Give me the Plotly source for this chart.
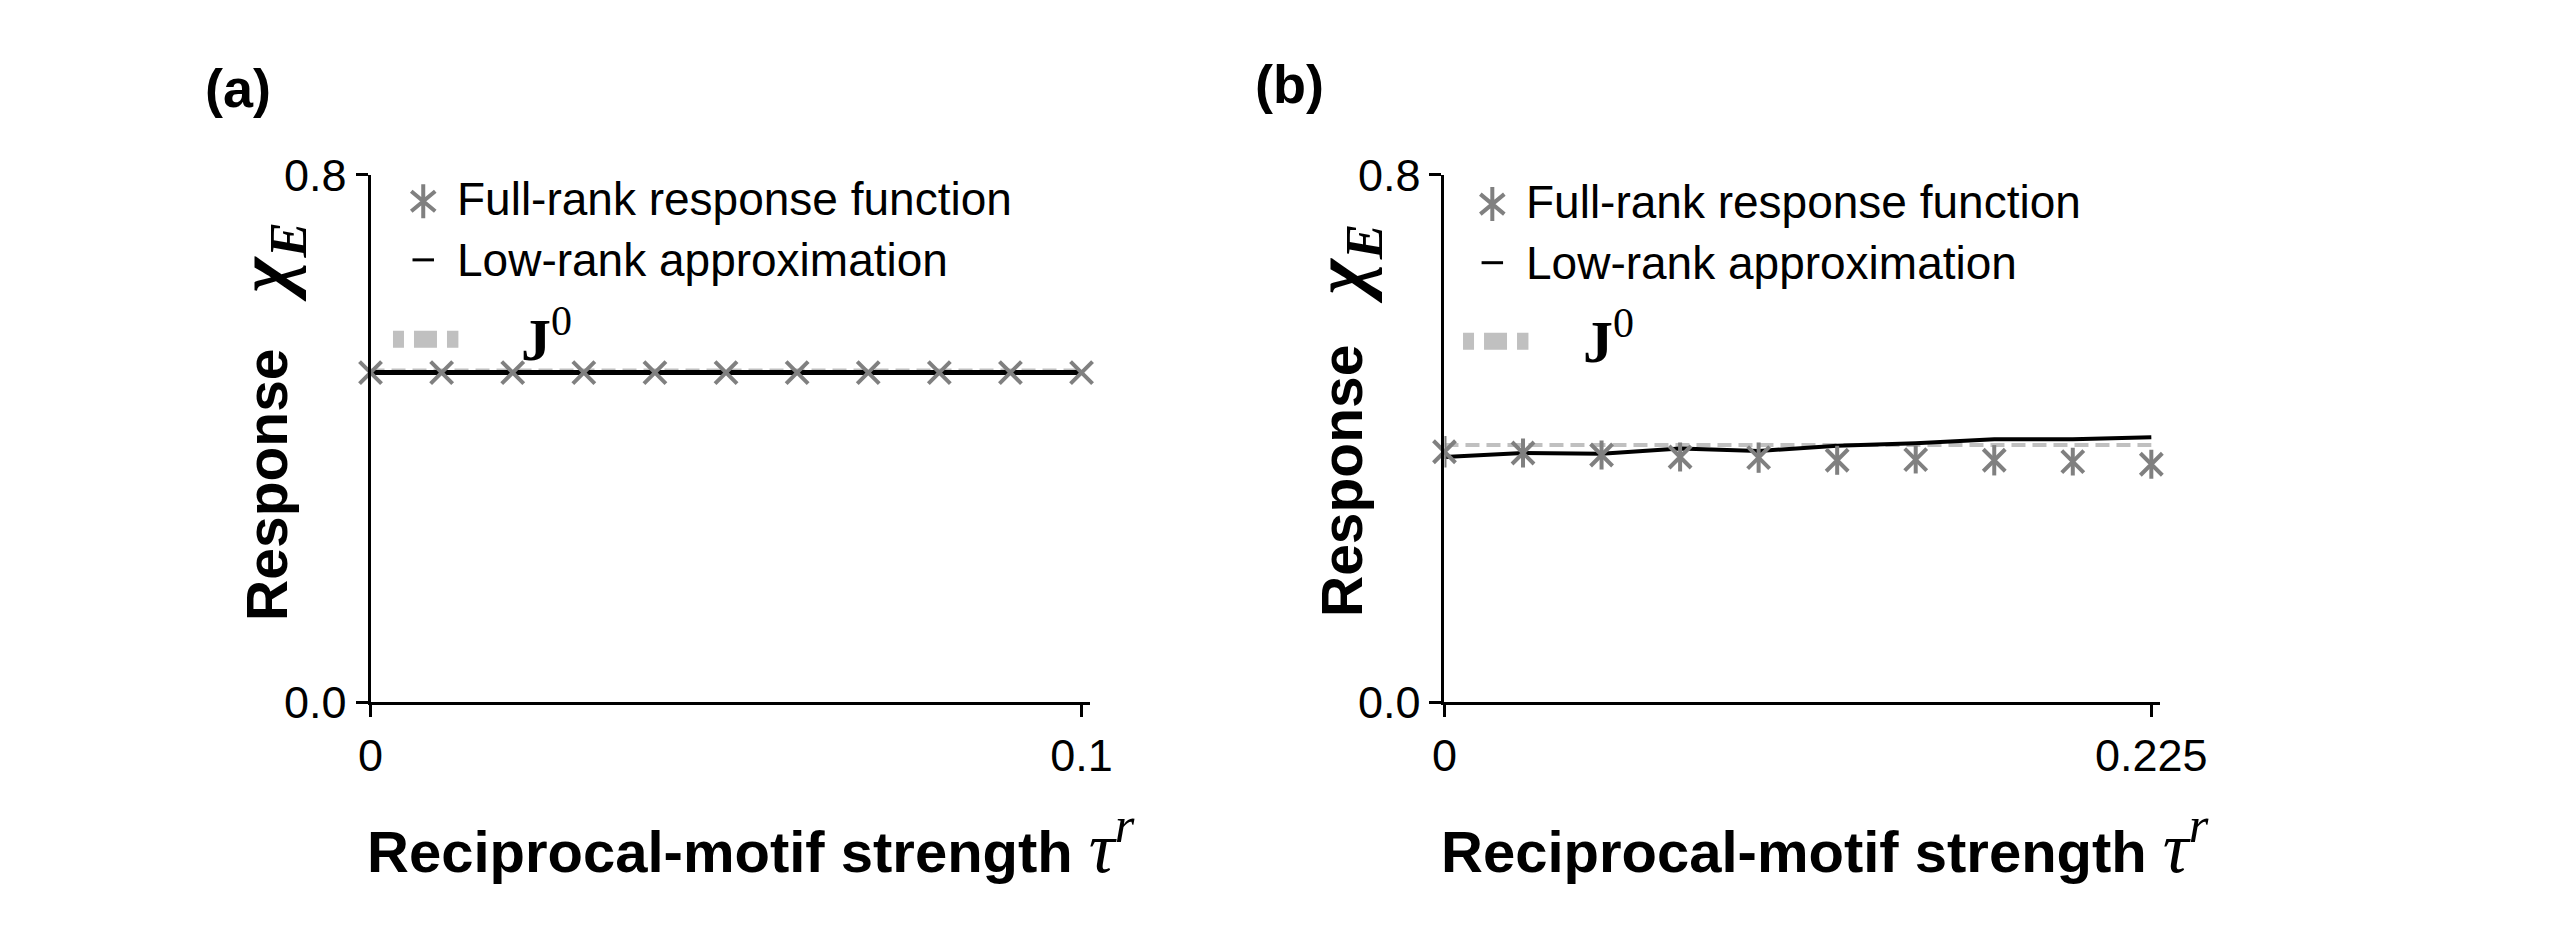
"""Response chi_E vs reciprocal-motif strength, panels (a) and (b)."""
import plotly.graph_objects as go

# page is 2550x948; the html body has an 8px margin, so the figure is a bit smaller
PAGE_MARGIN = 8
W, H = 2550 - 2 * PAGE_MARGIN, 948 - 2 * PAGE_MARGIN

# panel (a)
tau_a = [0.0, 0.01, 0.02, 0.03, 0.04, 0.05, 0.06, 0.07, 0.08, 0.09, 0.1]
full_rank_a = [0.500, 0.500, 0.500, 0.500, 0.500, 0.500, 0.500, 0.500, 0.500, 0.500, 0.500]
low_rank_a = [0.500, 0.500, 0.500, 0.500, 0.500, 0.500, 0.500, 0.500, 0.500, 0.500, 0.500]
j0_a = [0.503, 0.503, 0.503, 0.503, 0.503, 0.503, 0.503, 0.503, 0.503, 0.503, 0.503]

# panel (b)
tau_b = [0.0, 0.025, 0.05, 0.075, 0.1, 0.125, 0.15, 0.175, 0.2, 0.225]
full_rank_b = [0.380, 0.378, 0.375, 0.372, 0.371, 0.367, 0.368, 0.367, 0.365, 0.361]
full_rank_b_err = [0.024, 0.022, 0.022, 0.022, 0.023, 0.022, 0.021, 0.023, 0.021, 0.022]
low_rank_b = [0.372, 0.378, 0.377, 0.385, 0.381, 0.389, 0.393, 0.399, 0.399, 0.402]
j0_b = [0.390, 0.390, 0.390, 0.390, 0.390, 0.390, 0.390, 0.390, 0.390, 0.390]

x_ticks_a = [0, 0.1]
x_ticktext_a = ["0", "0.1"]
x_ticks_b = [0, 0.225]
x_ticktext_b = ["0", "0.225"]
y_ticks = [0, 0.8]
y_ticktext = ["0.0", "0.8"]

GRAY = "#808080"
LIGHT = "#c0c0c0"
SANS = "Liberation Sans, Arial, sans-serif"
SERIF = "Liberation Serif, DejaVu Serif, serif"


def px(x):
    return (x - PAGE_MARGIN) / W


def py(y):
    return 1 - (y - PAGE_MARGIN) / H


fig = go.Figure()

panels = [
    ("x", "y", tau_a, full_rank_a, None, low_rank_a, j0_a, 5, 4),
    ("x2", "y2", tau_b, full_rank_b, full_rank_b_err, low_rank_b, j0_b, 4, 4),
]
for xa, ya, tau, full, err, low, j0, lw, jw in panels:
    fig.add_trace(go.Scatter(
        x=tau, y=j0, mode="lines", xaxis=xa, yaxis=ya,
        line=dict(color=LIGHT, width=jw, dash="14px,7px"),
        showlegend=False, cliponaxis=False,
    ))
    fig.add_trace(go.Scatter(
        x=tau, y=low, mode="lines", xaxis=xa, yaxis=ya,
        line=dict(color="black", width=lw),
        showlegend=False, cliponaxis=False,
    ))
    fig.add_trace(go.Scatter(
        x=tau, y=full, mode="markers", xaxis=xa, yaxis=ya,
        marker=dict(symbol="x-thin-open", size=22, color=GRAY,
                    line=dict(color=GRAY, width=4)),
        error_y=dict(type="data", array=err, visible=err is not None,
                     color=GRAY, thickness=4, width=0),
        showlegend=False, cliponaxis=False,
    ))

axis_common = dict(
    showgrid=False, zeroline=False, showline=True, linecolor="black", linewidth=3,
    ticks="outside", ticklen=12, tickwidth=3, tickcolor="black",
    tickfont=dict(family=SANS, size=45, color="black"),
)
y_dom = [py(716), py(158)]
fig.update_layout(
    width=W, height=H,
    paper_bgcolor="white", plot_bgcolor="white",
    margin=dict(l=0, r=0, t=0, b=0),
    showlegend=False,
    xaxis=dict(domain=[px(366), px(1103)], range=[0, 0.1012], anchor="y",
               tickvals=x_ticks_a, ticktext=x_ticktext_a, **axis_common),
    yaxis=dict(domain=y_dom, range=[0, 0.8], anchor="x",
               tickvals=y_ticks, ticktext=y_ticktext, **axis_common),
    xaxis2=dict(domain=[px(1466), px(2199)], range=[0, 0.2278], anchor="y2",
                tickvals=x_ticks_b, ticktext=x_ticktext_b, **axis_common),
    yaxis2=dict(domain=y_dom, range=[0, 0.8], anchor="x2",
                tickvals=y_ticks, ticktext=y_ticktext, **axis_common),
)


def note(text, x, y, size, family=SANS, xanchor="center", angle=0, color="black"):
    fig.add_annotation(
        text=text, x=px(x), y=py(y), xref="paper", yref="paper",
        xanchor=xanchor, yanchor="middle", showarrow=False, textangle=angle,
        font=dict(family=family, size=size, color=color),
    )


TAU = ('<span style="font-family:Liberation Serif,serif;font-size:72px">'
       '<i>τ</i><sup><i>r</i></sup></span>')

# per panel: label, label x/y, "Response" x/y, chi x/y, legend symbol x, legend text x,
#            J0 dash start, J0 text x, x-title centre, legend rows
layout_pos = [
    ("(a)", 230, 66, 260, 486, 263, 250, 420, 453, 389, 518, 756, 184, 248, 332),
    ("(b)", 1307, 62, 1361, 482, 1365, 252, 1515, 1547, 1485, 1606, 1856, 187, 251, 334),
]
for (lab, lab_x, lab_y, rx, ry, cx, cy, sym_x, txt_x, dash_x, j_x, xt_x,
     r1, r2, r3) in layout_pos:
    note("<b>%s</b>" % lab, lab_x, lab_y, 54)
    note("<b>Response</b>", rx, ry, 57, angle=-90)
    note("<b><i>χ</i></b><sub><b><i>E</i></b></sub>", cx, cy, 76,
         family=SERIF, angle=-90)
    note("<b>Reciprocal-motif strength </b>" + TAU, xt_x, 864, 58)
    # legend
    note("Full-rank response function", txt_x, r1, 46, xanchor="left")
    note("Low-rank approximation", txt_x, r2, 46, xanchor="left")
    note("<b>J</b><sup>0</sup>", j_x, r3 - 4, 60, family=SERIF, xanchor="left")
    fig.add_shape(
        type="path", xref="paper", yref="paper",
        xsizemode="pixel", ysizemode="pixel",
        xanchor=px(sym_x), yanchor=py(r1 + 2),
        path="M-12,-10 L12,10 M-12,10 L12,-10 M0,-17 L0,17",
        line=dict(color=GRAY, width=4),
    )
    fig.add_shape(
        type="line", xref="paper", yref="paper",
        x0=px(sym_x - 11), x1=px(sym_x + 11), y0=py(r2), y1=py(r2),
        line=dict(color="black", width=3),
    )
    fig.add_shape(
        type="line", xref="paper", yref="paper",
        x0=px(dash_x), x1=px(dash_x + 67), y0=py(r3), y1=py(r3),
        line=dict(color=LIGHT, width=17, dash="11px,10px,23px,10px,13px,300px"),
    )

fig.write_html("out.html")
